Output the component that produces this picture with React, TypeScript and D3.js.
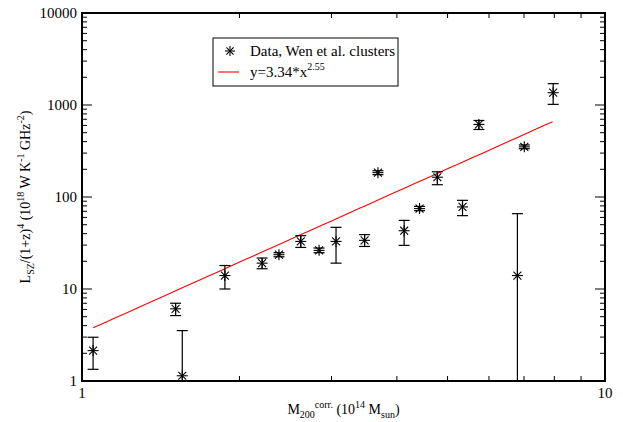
import React from "react";
import * as d3 from "d3";

const mass = [1.05, 1.51, 1.555, 1.876, 2.21, 2.38, 2.62, 2.84, 3.06, 3.47, 3.68, 4.13, 4.42, 4.78, 5.34, 5.74, 6.8, 7.01, 7.96];
const lsz = [2.14, 6.09, 1.14, 14.0, 19.1, 23.6, 32.9, 26.3, 32.9, 33.8, 184, 43, 74.8, 164, 78, 615, 14.0, 351, 1361];
const errLow = [1.34, 5.14, 0.1, 10.0, 16.6, 22.4, 28.3, 24.8, 19.1, 29, 175, 29.8, 71, 136, 62.7, 542, 0.1, 335, 1016];
const errHigh = [2.99, 7.0, 3.53, 18.0, 21.7, 24.8, 38, 27.9, 46.8, 39, 193, 55.7, 79, 188, 92, 679, 65.9, 368, 1706];
const fitA = 3.34;
const fitB = 2.55;
const fitRange = [1.05, 7.94];
const xMajor = [1, 10];
const yMajor = [1, 10, 100, 1000, 10000];

const W = 623, H = 422;
const L = 82, R = 605, T = 13, B = 381;
const FONT = "'Liberation Serif', 'DejaVu Serif', serif";

export default function App() {
  const x = d3.scaleLog().domain([1, 10]).range([L, R]);
  const y = d3.scaleLog().domain([1, 10000]).range([B, T]);
  const clampY = (v: number) => Math.min(B, Math.max(T, y(v)));

  const xMinor: number[] = [];
  for (let k = 2; k <= 9; k++) xMinor.push(k);
  const yMinor: number[] = [];
  for (let d = 1; d < 10000; d *= 10) for (let k = 2; k <= 9; k++) yMinor.push(k * d);

  const fitPts = d3.range(0, 41).map((i) => {
    const xv = fitRange[0] * Math.pow(fitRange[1] / fitRange[0], i / 40);
    return [xv, fitA * Math.pow(xv, fitB)] as [number, number];
  });
  const line = d3.line<[number, number]>().x((d) => x(d[0])).y((d) => y(d[1]));

  const star = (cx: number, cy: number, s: number, key?: string) => {
    const dd = s * 0.72;
    return (
      <g key={key} stroke="#000" strokeWidth={1.1}>
        <line x1={cx - s} y1={cy} x2={cx + s} y2={cy} />
        <line x1={cx} y1={cy - s} x2={cx} y2={cy + s} />
        <line x1={cx - dd} y1={cy - dd} x2={cx + dd} y2={cy + dd} />
        <line x1={cx - dd} y1={cy + dd} x2={cx + dd} y2={cy - dd} />
      </g>
    );
  };

  const cap = 5.5;
  const tf = { fontFamily: FONT } as React.CSSProperties;

  return (
    <svg width={W} height={H} style={{ position: "absolute", left: 0, top: 0, background: "#fff" }}>
      <defs>
        <clipPath id="plot">
          <rect x={L} y={T} width={R - L} height={B - T} />
        </clipPath>
      </defs>
      <rect x={0} y={0} width={W} height={H} fill="#fff" />

      <path d={line(fitPts) || ""} fill="none" stroke="#ff0000" strokeWidth={1.1} clipPath="url(#plot)" />

      <g stroke="#000" strokeWidth={1.2} clipPath="url(#plot)">
        {mass.map((m, i) => {
          const cx = x(m);
          const yh = clampY(errHigh[i]);
          const yl = clampY(errLow[i]);
          return (
            <g key={"e" + i}>
              <line x1={cx} y1={yh} x2={cx} y2={yl} />
              <line x1={cx - cap} y1={yh} x2={cx + cap} y2={yh} />
              {errLow[i] >= 1 && <line x1={cx - cap} y1={yl} x2={cx + cap} y2={yl} />}
            </g>
          );
        })}
      </g>

      {mass.map((m, i) => star(x(m), y(lsz[i]), 5.5, "s" + i))}

      <g stroke="#000" strokeWidth={1}>
        {xMajor.map((v) => (
          <g key={"xM" + v}>
            <line x1={x(v)} y1={B} x2={x(v)} y2={B - 10} />
            <line x1={x(v)} y1={T} x2={x(v)} y2={T + 10} />
          </g>
        ))}
        {xMinor.map((v) => (
          <g key={"xm" + v}>
            <line x1={x(v)} y1={B} x2={x(v)} y2={B - 5} />
            <line x1={x(v)} y1={T} x2={x(v)} y2={T + 5} />
          </g>
        ))}
        {yMajor.map((v) => (
          <g key={"yM" + v}>
            <line x1={L} y1={y(v)} x2={L + 10} y2={y(v)} />
            <line x1={R} y1={y(v)} x2={R - 10} y2={y(v)} />
          </g>
        ))}
        {yMinor.map((v) => (
          <g key={"ym" + v}>
            <line x1={L} y1={y(v)} x2={L + 5} y2={y(v)} />
            <line x1={R} y1={y(v)} x2={R - 5} y2={y(v)} />
          </g>
        ))}
      </g>

      <rect x={L} y={T} width={R - L} height={B - T} fill="none" stroke="#000" strokeWidth={2} />

      <g fontSize={15} fill="#000" style={tf}>
        {xMajor.map((v) => (
          <text key={"xl" + v} x={x(v)} y={B + 17} textAnchor="middle" style={tf}>{String(v)}</text>
        ))}
        {yMajor.map((v) => (
          <text key={"yl" + v} x={L - 5} y={y(v) + 5} textAnchor="end" style={tf}>{String(v)}</text>
        ))}
      </g>

      <text x={(L + R) / 2} y={414} textAnchor="middle" fontSize={14} style={tf}>
        M<tspan fontSize={10} dy={4}>200</tspan>
        <tspan fontSize={10} dy={-10}>corr.</tspan>
        <tspan fontSize={14} dy={6}> (10</tspan>
        <tspan fontSize={10} dy={-6}>14</tspan>
        <tspan fontSize={14} dy={6}> M</tspan>
        <tspan fontSize={10} dy={4}>sun</tspan>
        <tspan fontSize={14} dy={-4}>)</tspan>
      </text>

      <text transform={`translate(30,${(T + B) / 2}) rotate(-90)`} textAnchor="middle" fontSize={14} style={tf}>
        L<tspan fontSize={10} dy={4}>SZ</tspan>
        <tspan fontSize={14} dy={-4}>/(1+z)</tspan>
        <tspan fontSize={10} dy={-6}>4</tspan>
        <tspan fontSize={14} dy={6}> (10</tspan>
        <tspan fontSize={10} dy={-6}>18</tspan>
        <tspan fontSize={14} dy={6}> W K</tspan>
        <tspan fontSize={10} dy={-6}>-1</tspan>
        <tspan fontSize={14} dy={6}> GHz</tspan>
        <tspan fontSize={10} dy={-6}>-2</tspan>
        <tspan fontSize={14} dy={6}>)</tspan>
      </text>

      <rect x={213} y={38} width={185} height={48} fill="#fff" stroke="#000" strokeWidth={1} />
      {star(230, 51, 5)}
      <text x={250} y={56} fontSize={15} style={tf}>Data, Wen et al. clusters</text>
      <line x1={218} y1={72} x2={239} y2={72} stroke="#ff0000" strokeWidth={1.1} />
      <text x={250} y={77} fontSize={15} style={tf}>
        y=3.34*x<tspan fontSize={10} dy={-7}>2.55</tspan>
      </text>
    </svg>
  );
}
